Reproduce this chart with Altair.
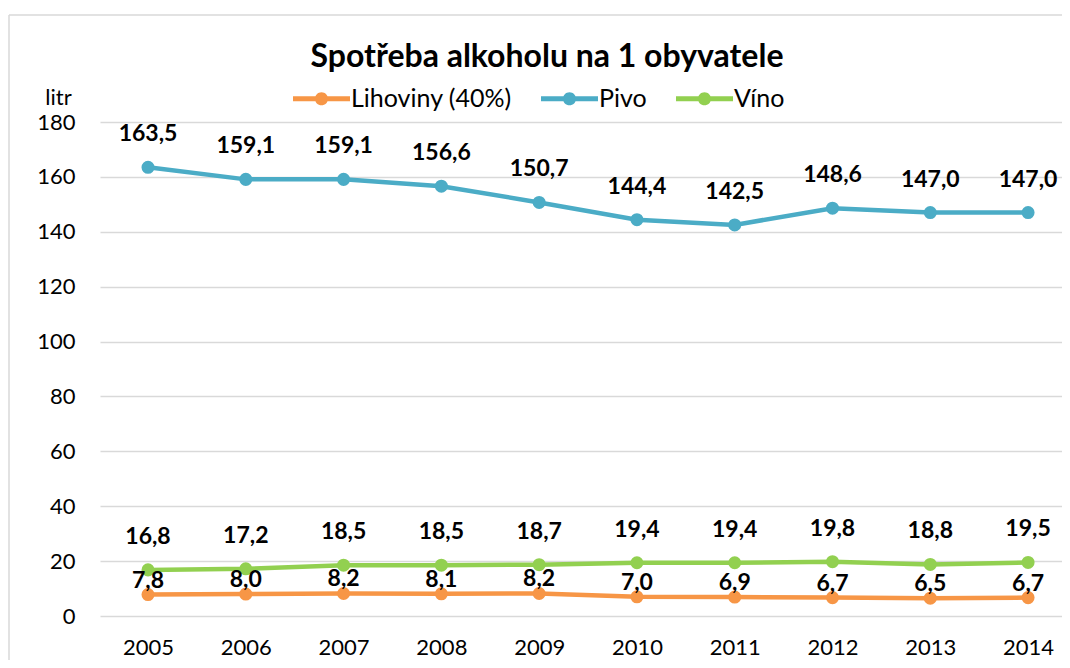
import altair as alt
import pandas as pd

years = [2005, 2006, 2007, 2008, 2009, 2010, 2011, 2012, 2013, 2014]
series_names = ["Lihoviny (40%)", "Pivo", "Víno"]
colors = ["#F79646", "#4BACC6", "#92D050"]
lihoviny = [7.8, 8.0, 8.2, 8.1, 8.2, 7.0, 6.9, 6.7, 6.5, 6.7]
pivo = [163.5, 159.1, 159.1, 156.6, 150.7, 144.4, 142.5, 148.6, 147.0, 147.0]
vino = [16.8, 17.2, 18.5, 18.5, 18.7, 19.4, 19.4, 19.8, 18.8, 19.5]
y_ticks = [0, 20, 40, 60, 80, 100, 120, 140, 160, 180]

rows = []
for name, vals in zip(series_names, [lihoviny, pivo, vino]):
    for yr, v in zip(years, vals):
        rows.append({"rok": yr, "serie": name, "hodnota": v,
                     "popis": f"{v:.1f}".replace(".", ",")})
df = pd.DataFrame(rows)

FONT = "Lato"
W, H = 962, 494

x_enc = alt.X("rok:Q",
              scale=alt.Scale(domain=[2004.509, 2014.347], nice=False, zero=False),
              axis=alt.Axis(values=years, format="d", grid=False, domain=False, ticks=False,
                            labelFont=FONT, labelFontSize=22, labelColor="#000000",
                            labelPadding=21, labelFlush=False, title=None))
y_enc = alt.Y("hodnota:Q",
              scale=alt.Scale(domain=[0, 180], nice=False),
              axis=alt.Axis(values=y_ticks, grid=True, gridColor="#d9d9d9", gridWidth=1.3,
                            domain=False, ticks=False, labelFont=FONT, labelFontSize=22,
                            labelColor="#000000", labelPadding=25,
                            title="litr", titleAngle=0, titleFont=FONT, titleFontSize=22,
                            titleFontWeight="normal", titleColor="#000000",
                            titleX=-42, titleY=-25, titleAlign="center",
                            titleBaseline="middle"))

color_scale = alt.Scale(domain=series_names, range=colors)

legend_path = ("M-1,-0.085 L1,-0.085 L1,0.085 L-1,0.085 Z "
               "M0.23,0 A0.23,0.23 0 1,1 -0.23,0 A0.23,0.23 0 1,1 0.23,0 Z")
legend = alt.Legend(orient="none", legendX=193, legendY=-52,
                    direction="horizontal", title=None,
                    symbolType=legend_path, symbolSize=3249,
                    symbolStrokeWidth=0, symbolOpacity=1,
                    labelFont=FONT, labelFontSize=25,
                    labelColor="#000000", labelOffset=1,
                    columnPadding=29, labelLimit=300)

base = alt.Chart(df)

lines = base.mark_line(strokeWidth=4.5).encode(
    x=x_enc, y=y_enc,
    color=alt.Color("serie:N", scale=color_scale, legend=legend),
    detail="serie:N",
)

points = base.mark_point(filled=True, size=170, opacity=1).encode(
    x="rok:Q", y="hodnota:Q",
    color=alt.Color("serie:N", scale=color_scale, legend=legend),
)

text_hi = base.transform_filter(alt.datum.serie != "Lihoviny (40%)").mark_text(
    font=FONT, fontSize=23, fontWeight="bold", dy=-33, color="#000000"
).encode(x="rok:Q", y="hodnota:Q", text="popis:N")

text_lo = base.transform_filter(alt.datum.serie == "Lihoviny (40%)").mark_text(
    font=FONT, fontSize=23, fontWeight="bold", dy=-14, color="#000000"
).encode(x="rok:Q", y="hodnota:Q", text="popis:N")

# chart-area frame (top and left edges; the rest lies outside the window)
frame = alt.Chart(pd.DataFrame({"a": [0]}))
frame_top = frame.mark_rule(stroke="#d9d9d9", strokeWidth=1.5).encode(
    x=alt.value(-91), x2=alt.value(W + 20), y=alt.value(-107))
frame_left = frame.mark_rule(stroke="#d9d9d9", strokeWidth=1.5).encode(
    x=alt.value(-91), y=alt.value(-107), y2=alt.value(H + 60))

chart = alt.layer(frame_top, frame_left, lines, points, text_hi, text_lo).properties(
    width=W, height=H,
    title=alt.TitleParams("Spotřeba alkoholu na 1 obyvatele", font=FONT, fontSize=32,
                          fontWeight="bold", color="#000000", anchor="middle",
                          baseline="middle", dx=-34, offset=0, dy=75),
    autosize=alt.AutoSizeParams(type="none"),
    padding={"left": 92, "top": 114, "right": 0, "bottom": 44},
).configure_view(stroke=None)

chart.save("out.html", embed_options={"renderer": "svg", "actions": False})
